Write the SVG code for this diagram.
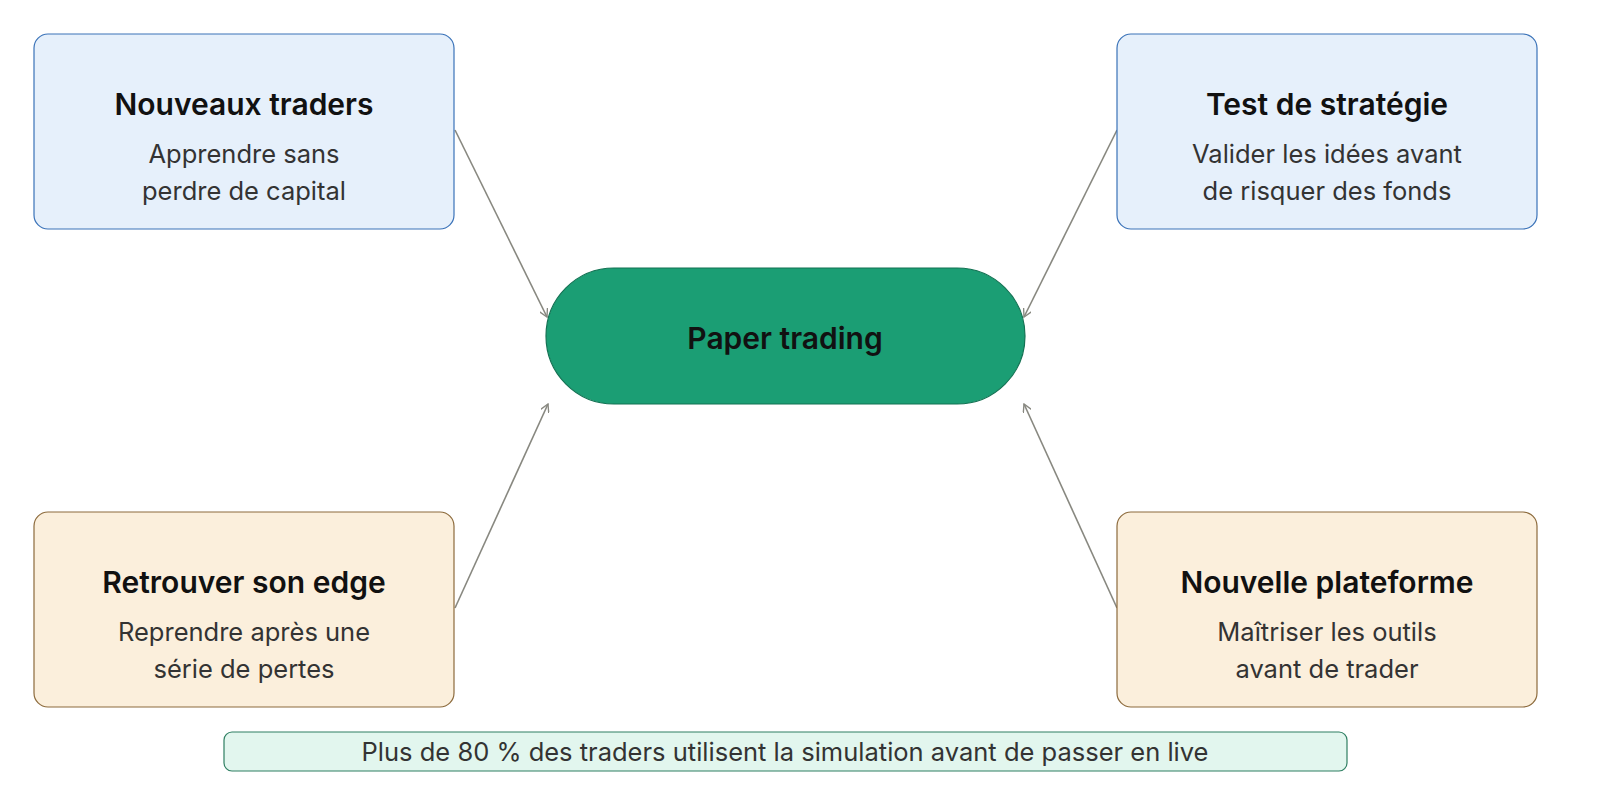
<svg xmlns="http://www.w3.org/2000/svg" width="1600" height="797" viewBox="0 0 1600 797">
<style>
.t{font-family:Inter,"Liberation Sans",sans-serif;font-weight:600;font-size:30px;fill:#111;text-anchor:middle}
.s{font-family:Inter,"Liberation Sans",sans-serif;font-size:25.5px;fill:#333;text-anchor:middle}
.blue{fill:#e6f0fb;stroke:#3a72b8;stroke-width:1.2}
.tan{fill:#fbefdc;stroke:#8c6a3c;stroke-width:1.2}
.c line{stroke:#888880;stroke-width:1.6;marker-end:url(#a)}
</style>
<defs><marker id="a" viewBox="0 0 10 10" refX="9" refY="5" markerWidth="9" markerHeight="9" orient="auto" markerUnits="userSpaceOnUse"><path d="M0,0 L9,5 L0,10" fill="none" stroke="#888880" stroke-width="1.5"/></marker></defs>
<rect width="1600" height="797" fill="#fff"/>
<g class="c">
<line x1="455" y1="130" x2="547" y2="317"/>
<line x1="1117" y1="130" x2="1024" y2="317"/>
<line x1="455" y1="608" x2="548" y2="404"/>
<line x1="1117" y1="608" x2="1024" y2="404"/>
</g>
<g id="center"><rect x="546" y="268" width="479" height="136" rx="68" fill="#1b9e74" stroke="#137253" stroke-width="1.2"/><text class="t" x="785" y="349">Paper trading</text></g>
<g id="n1"><rect class="blue" x="34" y="34" width="420" height="195" rx="14"/><text class="t" x="244" y="115">Nouveaux traders</text><text class="s" x="244" y="163">Apprendre sans</text><text class="s" x="244" y="200">perdre de capital</text></g>
<g id="n2"><rect class="blue" x="1117" y="34" width="420" height="195" rx="14"/><text class="t" x="1327" y="115">Test de stratégie</text><text class="s" x="1327" y="163">Valider les idées avant</text><text class="s" x="1327" y="200">de risquer des fonds</text></g>
<g id="n3"><rect class="tan" x="34" y="512" width="420" height="195" rx="14"/><text class="t" x="244" y="593">Retrouver son edge</text><text class="s" x="244" y="641">Reprendre après une</text><text class="s" x="244" y="678">série de pertes</text></g>
<g id="n4"><rect class="tan" x="1117" y="512" width="420" height="195" rx="14"/><text class="t" x="1327" y="593">Nouvelle plateforme</text><text class="s" x="1327" y="641">Maîtriser les outils</text><text class="s" x="1327" y="678">avant de trader</text></g>
<g id="note"><rect x="224" y="732" width="1123" height="39" rx="8" fill="#e2f6ee" stroke="#2f7f62" stroke-width="1.2"/><text class="s" x="785" y="761">Plus de 80 % des traders utilisent la simulation avant de passer en live</text></g>
</svg>
